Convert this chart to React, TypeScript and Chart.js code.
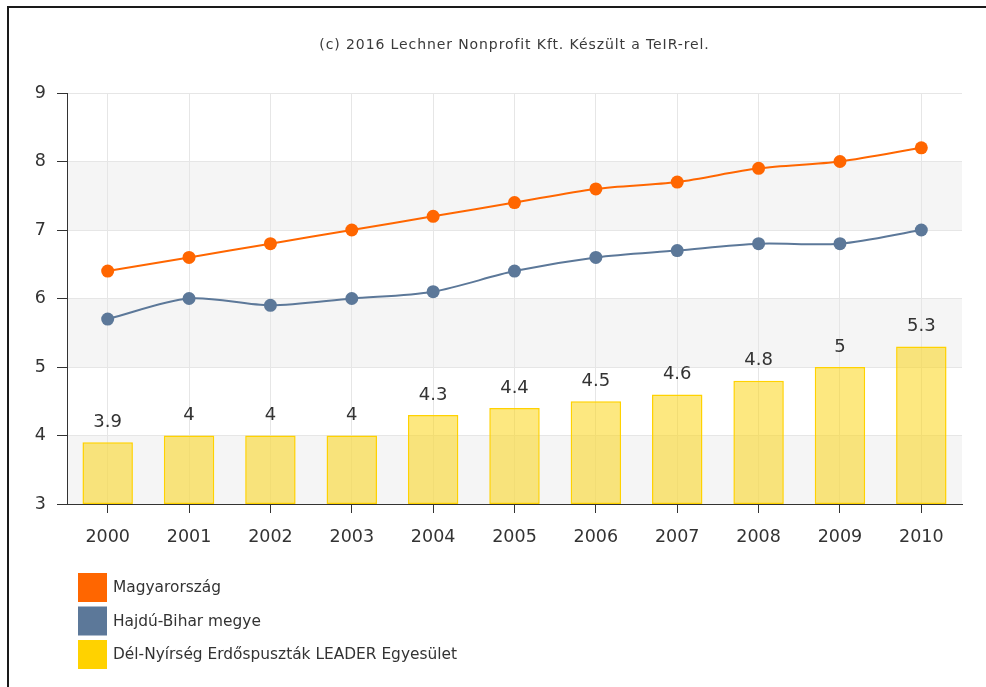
import React, { useEffect, useRef } from "react";
import { Chart, registerables } from "chart.js";

Chart.register(...registerables);

const years = ["2000", "2001", "2002", "2003", "2004", "2005", "2006", "2007", "2008", "2009", "2010"];
const magyarorszag = [6.4, 6.6, 6.8, 7.0, 7.2, 7.4, 7.6, 7.7, 7.9, 8.0, 8.2];
const hajduBihar = [5.7, 6.0, 5.9, 6.0, 6.1, 6.4, 6.6, 6.7, 6.8, 6.8, 7.0];
const delNyirseg = [3.9, 4.0, 4.0, 4.0, 4.3, 4.4, 4.5, 4.6, 4.8, 5.0, 5.3];
const seriesNames = ["Magyarország", "Hajdú-Bihar megye", "Dél-Nyírség Erdőspuszták LEADER Egyesület"];
const seriesColors = ["#FF6600", "#5C7899", "#FFD200"];
const titleText = "(c) 2016 Lechner Nonprofit Kft. Készült a TeIR-rel.";

const FONT = "'DejaVu Sans', Verdana, sans-serif";

const bandsPlugin = {
  id: "bands",
  beforeDraw(chart: any) {
    const { ctx, chartArea } = chart;
    const y = chart.scales.y;
    ctx.save();
    ctx.fillStyle = "#f5f5f5";
    for (let v = 3; v < 9; v += 2) {
      const top = y.getPixelForValue(v + 1);
      const bottom = y.getPixelForValue(v);
      ctx.fillRect(chartArea.left, top, chartArea.right - chartArea.left, bottom - top);
    }
    ctx.restore();
  },
};

const extrasPlugin = {
  id: "extras",
  afterDraw(chart: any) {
    const { ctx, chartArea } = chart;
    ctx.save();
    // title
    ctx.fillStyle = "#3a3a3a";
    ctx.font = `14px ${FONT}`;
    try { (ctx as any).letterSpacing = "0.9px"; } catch (e) {}
    ctx.textAlign = "center";
    ctx.textBaseline = "middle";
    ctx.fillText(titleText, (chartArea.left + chartArea.right) / 2, 45);
    try { (ctx as any).letterSpacing = "0px"; } catch (e) {}

    // bar value labels
    const meta = chart.getDatasetMeta(2);
    ctx.font = `18px ${FONT}`;
    ctx.fillStyle = "#333";
    meta.data.forEach((bar: any, i: number) => {
      ctx.fillText(String(delNyirseg[i]), bar.x, bar.y - 20);
    });

    // legend
    const lx = chartArea.left + 11;
    const ly0 = chartArea.bottom + 69;
    ctx.textAlign = "left";
    ctx.font = `15.4px ${FONT}`;
    seriesNames.forEach((name, i) => {
      const sy = ly0 + i * 33.5;
      ctx.fillStyle = seriesColors[i];
      ctx.fillRect(lx, sy, 29, 29);
      ctx.fillStyle = "#333";
      ctx.fillText(name, lx + 35, sy + 15);
    });
    ctx.restore();
  },
};

export default function App() {
  const ref = useRef<HTMLCanvasElement>(null);
  useEffect(() => {
    if (!ref.current) return;
    const chart = new Chart(ref.current, {
      type: "bar",
      data: {
        labels: years,
        datasets: [
          {
            type: "line",
            label: seriesNames[0],
            data: magyarorszag,
            borderColor: seriesColors[0],
            backgroundColor: seriesColors[0],
            borderWidth: 2,
            pointRadius: 6.5,
            pointBorderWidth: 0,
            tension: 0.3,
            order: 1,
          } as any,
          {
            type: "line",
            label: seriesNames[1],
            data: hajduBihar,
            borderColor: seriesColors[1],
            backgroundColor: seriesColors[1],
            borderWidth: 2,
            pointRadius: 6.5,
            pointBorderWidth: 0,
            tension: 0.3,
            order: 2,
          } as any,
          {
            type: "bar",
            label: seriesNames[2],
            data: delNyirseg.map((v) => [3, v]),
            backgroundColor: "rgba(252, 212, 20, 0.54)",
            borderColor: "#FFD200",
            borderWidth: 1.5,
            borderSkipped: false,
            barPercentage: 0.62,
            categoryPercentage: 1,
            order: 3,
          } as any,
        ],
      },
      options: {
        responsive: false,
        animation: false,
        layout: { padding: { top: 93, right: 24, bottom: 123, left: 0 } },
        plugins: {
          legend: { display: false },
          title: { display: false },
          tooltip: { enabled: false },
        },
        scales: {
          x: {
            offset: true,
            grid: {
              offset: false,
              color: "#e6e6e6",
              tickColor: "#333",
              tickLength: 9,
              drawOnChartArea: true,
            },
            border: { display: true, color: "#333", width: 1 },
            ticks: {
              color: "#333",
              font: { family: FONT, size: 17.5 },
              padding: 14,
              maxRotation: 0,
            },
            afterFit(scale: any) {
              scale.height = 60;
            },
          },
          y: {
            min: 3,
            max: 9,
            grid: {
              color: "#e6e6e6",
              tickColor: "#333",
              tickLength: 10,
            },
            border: { display: true, color: "#333", width: 1 },
            ticks: {
              stepSize: 1,
              color: "#333",
              font: { family: FONT, size: 17.5 },
              padding: 11,
            },
            afterFit(scale: any) {
              scale.width = 67;
            },
          },
        },
      },
      plugins: [bandsPlugin, extrasPlugin],
    });
    return () => chart.destroy();
  }, []);

  return (
    <div style={{ position: "absolute", left: 0, top: 0, width: 986, height: 687, background: "#fff", overflow: "hidden" }}>
      <canvas ref={ref} width={986} height={687} style={{ display: "block", width: 986, height: 687 }} />
      <div
        style={{
          position: "absolute",
          left: 7,
          top: 6,
          width: 990,
          height: 700,
          borderTop: "2px solid #1a1a1a",
          borderLeft: "2px solid #1a1a1a",
          pointerEvents: "none",
        }}
      />
    </div>
  );
}
